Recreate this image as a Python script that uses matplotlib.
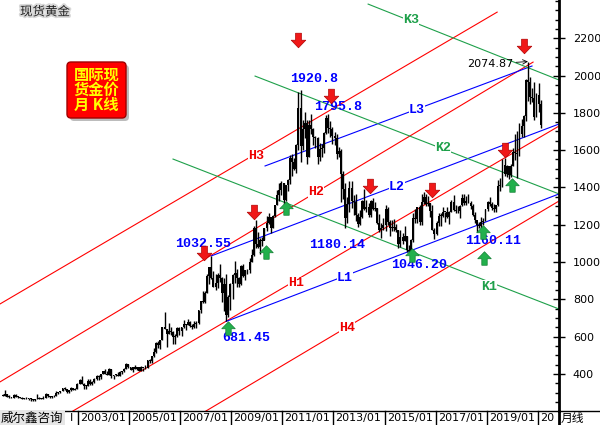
import numpy as np
import matplotlib
matplotlib.use('Agg')
import matplotlib.pyplot as plt
from matplotlib.path import Path
from matplotlib.patches import FancyBboxPatch
import matplotlib.patheffects as pe

cjk = ['Noto Sans CJK SC', 'DejaVu Sans']

# 现货黄金 月线 2000/01 - 2021/02
close = [283, 293, 278, 275, 272, 288, 277, 277, 273, 264, 269, 273,
         265, 267, 258, 264, 266, 270, 266, 273, 293, 279, 275, 279,
         282, 296, 302, 308, 326, 318, 304, 312, 323, 316, 318, 347,
         367, 347, 334, 336, 364, 346, 354, 375, 388, 384, 398, 416,
         402, 396, 427, 387, 395, 395, 391, 408, 416, 428, 452, 438,
         422, 435, 428, 435, 417, 436, 429, 433, 473, 470, 495, 517,
         568, 556, 582, 654, 643, 613, 632, 623, 599, 604, 646, 632,
         650, 665, 662, 680, 659, 650, 665, 672, 743, 789, 783, 836,
         923, 972, 916, 864, 888, 928, 913, 833, 884, 718, 814, 884,
         928, 943, 916, 884, 979, 927, 955, 955, 1001, 1040, 1181, 1097,
         1082, 1116, 1113, 1180, 1207, 1244, 1181, 1248, 1307, 1359, 1386, 1421,
         1332, 1411, 1439, 1556, 1536, 1500, 1628, 1826, 1620, 1715, 1746, 1564,
         1737, 1711, 1668, 1664, 1561, 1604, 1614, 1691, 1772, 1719, 1712, 1675,
         1663, 1579, 1596, 1472, 1393, 1234, 1313, 1395, 1328, 1323, 1253, 1202,
         1244, 1326, 1284, 1296, 1250, 1327, 1282, 1287, 1211, 1171, 1182, 1199,
         1283, 1212, 1183, 1183, 1190, 1172, 1095, 1134, 1115, 1142, 1065, 1061,
         1118, 1238, 1233, 1293, 1215, 1322, 1351, 1309, 1316, 1272, 1173, 1151,
         1211, 1249, 1249, 1268, 1268, 1242, 1269, 1322, 1280, 1271, 1275, 1303,
         1345, 1318, 1325, 1315, 1298, 1253, 1224, 1201, 1192, 1215, 1222, 1282,
         1321, 1313, 1292, 1284, 1305, 1409, 1413, 1520, 1472, 1513, 1464, 1517,
         1589, 1585, 1577, 1686, 1730, 1781, 1975, 1967, 1886, 1879, 1776, 1898,
         1847, 1734]
high = [292, 313, 294, 285, 277, 294, 290, 280, 278, 275, 270, 275,
        272, 269, 268, 265, 294, 275, 270, 280, 295, 294, 280, 280,
        286, 306, 305, 309, 327, 330, 320, 315, 328, 325, 323, 350,
        372, 389, 352, 340, 372, 371, 360, 377, 392, 392, 400, 417,
        427, 418, 430, 428, 395, 400, 410, 415, 417, 430, 456, 455,
        439, 438, 445, 437, 435, 442, 430, 447, 475, 478, 496, 539,
        570, 574, 584, 654, 730, 640, 675, 650, 630, 612, 650, 650,
        653, 690, 670, 692, 682, 665, 685, 685, 745, 793, 845, 843,
        935, 975, 1032.55, 950, 935, 940, 988, 918, 913, 934, 825, 885,
        937, 1006, 960, 917, 983, 990, 959, 965, 1024, 1072, 1195, 1227,
        1162, 1127, 1135, 1180, 1249, 1265, 1244, 1250, 1308, 1388, 1424, 1432,
        1424, 1411, 1447, 1575, 1577, 1558, 1632, 1913, 1920.8, 1761, 1803, 1764,
        1764, 1791, 1720, 1678, 1670, 1640, 1632, 1695, 1788, 1795.8, 1755, 1724,
        1695, 1685, 1617, 1605, 1487, 1424, 1348, 1434, 1434, 1361, 1362, 1262,
        1280, 1332, 1392, 1332, 1315, 1332, 1345, 1322, 1290, 1256, 1209, 1238,
        1307, 1295, 1224, 1224, 1233, 1205, 1174, 1170, 1157, 1191, 1142, 1089,
        1125, 1263, 1283, 1297, 1304, 1362, 1375, 1367, 1352, 1318, 1306, 1180,
        1220, 1264, 1261, 1295, 1269, 1296, 1271, 1331, 1357, 1306, 1299, 1307,
        1366, 1362, 1356, 1366, 1326, 1309, 1266, 1217, 1214, 1243, 1237, 1284,
        1326, 1346, 1324, 1310, 1306, 1439, 1453, 1555, 1557, 1518, 1516, 1525,
        1611, 1689, 1704, 1748, 1765, 1789, 1984, 2074.87, 1992, 1933, 1966, 1906,
        1959, 1871]
low = [280, 282, 276, 272, 270, 272, 275, 270, 270, 263, 263, 267,
       262, 255, 256, 254, 263, 265, 263, 265, 272, 277, 272, 272,
       277, 282, 290, 300, 307, 315, 300, 300, 310, 313, 313, 318,
       345, 345, 320, 320, 336, 343, 340, 353, 369, 366, 373, 397,
       398, 394, 392, 380, 372, 387, 387, 388, 401, 410, 425, 430,
       419, 411, 425, 422, 414, 414, 418, 427, 432, 460, 457, 489,
       514, 538, 536, 580, 643, 542, 612, 610, 560, 560, 600, 610,
       602, 646, 637, 664, 653, 640, 645, 645, 670, 725, 782, 782,
       834, 880, 910, 865, 848, 858, 895, 786, 736, 681.45, 705, 745,
       802, 890, 866, 865, 878, 920, 905, 933, 940, 1001, 1034, 1075,
       1075, 1045, 1088, 1117, 1164, 1205, 1157, 1180, 1242, 1307, 1329, 1360,
       1309, 1328, 1381, 1417, 1462, 1496, 1478, 1600, 1534, 1600, 1667, 1523,
       1563, 1687, 1627, 1613, 1527, 1542, 1565, 1584, 1684, 1692, 1672, 1635,
       1626, 1555, 1562, 1321, 1338, 1180.14, 1208, 1270, 1290, 1251, 1221, 1186,
       1200, 1238, 1278, 1268, 1240, 1241, 1281, 1273, 1206, 1160, 1131, 1170,
       1167, 1196, 1142, 1166, 1168, 1163, 1077, 1080, 1098, 1112, 1052, 1046.2,
       1061, 1107, 1209, 1208, 1199, 1200, 1310, 1300, 1302, 1241, 1171, 1122,
       1146, 1194, 1195, 1243, 1214, 1236, 1204, 1267, 1274, 1261, 1264, 1236,
       1302, 1307, 1303, 1315, 1282, 1247, 1211, 1160.11, 1180, 1182, 1196, 1221,
       1276, 1302, 1281, 1266, 1267, 1298, 1381, 1400, 1459, 1458, 1445, 1454,
       1517, 1548, 1451, 1568, 1671, 1670, 1757, 1863, 1849, 1860, 1764, 1775,
       1802, 1717]
first_open = 289

# 趋势线 (月序号, 价格)
h_lines = [([-1.41, 232.5], [775, 2340]),
           ([-1.41, 249.4], [357, 2072]),
           ([32.9, 261.6], [201, 1729]),
           ([95.5, 261.6], [201, 1327])]
l_lines = [([105, 261.6], [681.45, 1365]),
           ([98, 261.6], [1032.55, 1740]),
           ([123.3, 248.9], [1515, 2051])]
k_lines = [([171.8, 261.6], [2383, 1976]),
           ([118.6, 261.6], [1997, 1365]),
           ([80, 261.6], [1552, 748])]

line_names = ['H3', 'H2', 'H1', 'H4', 'L1', 'L2', 'L3', 'K3', 'K2', 'K1']
name_x = [119, 147.3, 137.9, 161.9, 160.9, 185.4, 194.8, 192, 207, 228.7]
name_y = [1568, 1375, 885, 646, 914, 1403, 1815, 2300, 1611, 868]

price_labels = ['1920.8', '1795.8', '1032.55', '1180.14', '1046.20', '1160.11', '681.45']
price_x = [146.4, 157.7, 94.1, 157.2, 195.8, 230.6, 114.4]
price_y = [1981, 1830, 1096, 1091, 984, 1113, 592]

red_x = [138.8, 154.4, 118.1, 94.6, 172.7, 201.9, 236.2, 245.2]
red_y = [2190, 1890, 1268, 1048, 1407, 1386, 1600, 2158]
green_x = [105.9, 123.8, 133.2, 192.5, 225.9, 226.4, 239.5]
green_y = [646, 1054, 1290, 1038, 1161, 1021, 1413]

tick_months = [36, 60, 84, 108, 132, 156, 180, 204, 228, 252]
tick_labels = ['2003/01', '2005/01', '2007/01', '2009/01', '2011/01',
               '2013/01', '2015/01', '2017/01', '2019/01', '20']

close = np.array(close, dtype=float)
idx = np.arange(len(close))
opn = np.r_[first_open, close[:-1]]

fig = plt.figure(figsize=(6, 4.25), dpi=100)
ax = fig.add_axes([0, 14/425, 559/600, 411/425])
ax.set_xlim(-1.41, 261.6)
ax.set_ylim(201, 2405)

# K线
ax.vlines(idx, low, high, color='black', lw=1.0, zorder=3)
bot = np.minimum(opn, close)
hgt = np.maximum(np.abs(close - opn), 4)
ax.bar(idx, hgt, bottom=bot, width=0.9, color='black', linewidth=0, zorder=3)

for xs, ys in h_lines:
    ax.plot(xs, ys, color='#ff0000', lw=0.8, zorder=2)
for xs, ys in l_lines:
    ax.plot(xs, ys, color='#0000ff', lw=0.8, zorder=2)
for xs, ys in k_lines:
    ax.plot(xs, ys, color='#1ea04a', lw=0.8, zorder=2)

for name, x, y in zip(line_names, name_x, name_y):
    c = {'H': '#ee0000', 'L': '#0000ff', 'K': '#1ea04a'}[name[0]]
    ax.text(x, y, name, color=c, fontsize=9.5, fontweight='bold', family='Liberation Mono',
            ha='center', va='center', zorder=5,
            bbox=dict(facecolor='white', edgecolor='none', pad=0.3))

for lab, x, y in zip(price_labels, price_x, price_y):
    ax.text(x, y, lab, color='#0000ff', fontsize=9.5, fontweight='bold', family='Liberation Mono',
            ha='center', va='center', zorder=5)

ax.annotate('2074.87', xy=(247, 2074.87), xytext=(229.2, 2062), fontsize=8,
            ha='center', va='center', zorder=5,
            arrowprops=dict(arrowstyle='->', lw=0.6, color='black', shrinkA=0, shrinkB=0))

# 箭头
v = [(-0.2, 0.5), (0.2, 0.5), (0.2, 0.02), (0.5, 0.02), (0, -0.5), (-0.5, 0.02), (-0.2, 0.02), (-0.2, 0.5)]
codes = [Path.MOVETO] + [Path.LINETO] * 6 + [Path.CLOSEPOLY]
down = Path(v, codes)
up = Path([(a, -b) for a, b in v], codes)
ax.scatter(red_x, red_y, marker=down, s=110, color='#f01818', edgecolors='#b00000', linewidths=0.5, zorder=6)
ax.scatter(green_x, green_y, marker=up, s=95, color='#22b04c', edgecolors='#138035', linewidths=0.5, zorder=6)

# 坐标轴
for s in ['top', 'left', 'bottom']:
    ax.spines[s].set_visible(False)
ax.spines['right'].set_linewidth(2)
ax.yaxis.tick_right()
ax.set_xticks([])
ax.set_yticks(range(400, 2201, 200))
ax.set_yticks(range(250, 2401, 50), minor=True)
ax.tick_params(axis='y', which='major', direction='inout', length=8, width=1, pad=6, labelsize=8)
ax.tick_params(axis='y', which='minor', direction='in', length=3, width=1)

trans = ax.get_xaxis_transform()
for m, lab in zip(tick_months, tick_labels):
    ax.plot([m - 0.5, m - 0.5], [0, -14/411], transform=trans, color='black', lw=1, clip_on=False)
    ax.text(m + 0.5, -7/411, lab, transform=trans, ha='left', va='center', fontsize=8, clip_on=False)

# 顶层装饰
ov = fig.add_axes([0, 0, 1, 1])
ov.set_xlim(0, 600)
ov.set_ylim(425, 0)
ov.axis('off')
ov.patch.set_visible(False)
ov.plot([0, 600], [411, 411], color='black', lw=1)
ov.plot([559, 559], [411, 425], color='black', lw=2)
ov.text(1, 418, '威尔鑫咨询', family=cjk, fontsize=9, va='center', ha='left',
        bbox=dict(facecolor='#e6e6e6', edgecolor='none', pad=0.8))
ov.text(70, 418, 'I', fontsize=8, va='center', ha='left')
ov.text(561, 418, '月线', family=cjk, fontsize=8.5, va='center', ha='left')

ov.text(20, 12, '现货黄金', family=cjk, fontsize=9, color='#222222', va='center', ha='left',
        path_effects=[pe.withStroke(linewidth=2.5, foreground='#d8d8d8')])

ov.add_patch(FancyBboxPatch((70, 65), 59, 56, boxstyle='round,pad=0,rounding_size=4',
                            facecolor='#909090', edgecolor='none', alpha=0.6))
ov.add_patch(FancyBboxPatch((67, 62), 59, 56, boxstyle='round,pad=0,rounding_size=4',
                            facecolor='#ff0000', edgecolor='#a00000', lw=1))
for txt, yy in zip(['国际现', '货金价', '月 K线'], [75, 90, 105]):
    ov.text(96.5, yy, txt, family=cjk, fontsize=11, fontweight='bold', color='#ffff00',
            ha='center', va='center')

fig.savefig('out.png', dpi=100)
